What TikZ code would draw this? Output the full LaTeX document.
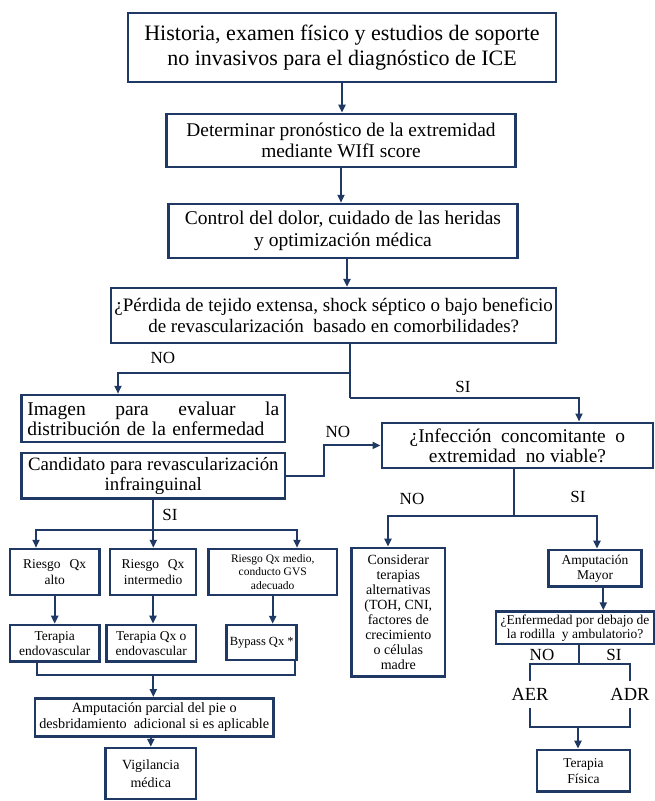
\documentclass[tikz,border=0pt]{standalone}
\usepackage{fontspec}
\setmainfont{Liberation Serif}
\usetikzlibrary{arrows.meta, calc}
\definecolor{azul}{RGB}{31,56,100}

\begin{document}
\begin{tikzpicture}[x=1pt, y=-1pt, >={Triangle[length=8pt,width=7pt]},
    caja/.style={draw=azul, line width=2.5pt, align=center, inner sep=0pt},
    linea/.style={draw=azul, line width=2pt},
    etq/.style={font=\fontsize{17}{17}\selectfont, inner sep=0pt}]
\useasboundingbox (0,0) rectangle (655,801);

\node[caja, minimum width=428, minimum height=69, font=\fontsize{22}{25}\selectfont] (hist) at (342,47.5) {Historia, examen físico y estudios de soporte\\no invasivos para el diagnóstico de ICE};
\node[caja, minimum width=349, minimum height=53, font=\fontsize{19.4}{21}\selectfont] (prono) at (341,140.4) {Determinar pronóstico de la extremidad\\mediante WIfI score};
\node[caja, minimum width=349, minimum height=54, font=\fontsize{19.5}{22}\selectfont] (dolor) at (343,231) {Control del dolor, cuidado de las heridas\\y optimización médica};
\node[caja, minimum width=445, minimum height=55, font=\fontsize{19}{21}\selectfont] (perd) at (333.7,315.6) {¿Pérdida de tejido extensa, shock séptico o bajo beneficio\\de revascularización\ \ basado en comorbilidades?};

\node[caja, minimum width=263.3, minimum height=47, text width=252, align=left, font=\fontsize{19.5}{20}\selectfont] (imag) at (153.3,418.5) {Imagen\hfill para\hfill evaluar\hfill la\\distribución de la enfermedad};
\node[caja, minimum width=263.3, minimum height=45.5, font=\fontsize{18.8}{19.5}\selectfont] (cand) at (153.3,475.8) {Candidato para revascularización\\infrainguinal};
\node[caja, minimum width=271.3, minimum height=45.3, font=\fontsize{19.4}{20}\selectfont] (infe) at (517.4,445.4) {¿Infección\ \ concomitante\ \ o\\extremidad\ \ no viable?};

\node[caja, minimum width=89.3, minimum height=46, font=\fontsize{13.5}{16.5}\selectfont] (alto) at (54.7,572) {Riesgo\hspace{9pt}Qx\\alto};
\node[caja, minimum width=86, minimum height=46, font=\fontsize{13.5}{16.5}\selectfont] (inter) at (153,572) {Riesgo\hspace{9pt}Qx\\intermedio};
\node[caja, minimum width=128.7, minimum height=46, font=\fontsize{11.5}{13.4}\selectfont] (medio) at (272.7,572) {Riesgo Qx\ medio,\\conducto GVS\\adecuado};
\node[caja, minimum width=89.3, minimum height=36.7, font=\fontsize{13.5}{15}\selectfont] (endo) at (54.7,643.3) {Terapia\\endovascular};
\node[caja, minimum width=89.3, minimum height=36.7, font=\fontsize{13.5}{15}\selectfont] (qxendo) at (151.3,643.3) {Terapia Qx o\\endovascular};
\node[caja, minimum width=70, minimum height=35, font=\fontsize{12.5}{15}\selectfont] (bypass) at (261.7,642.5) {Bypass Qx *};
\node[caja, minimum width=238.3, minimum height=38.4, font=\fontsize{14.2}{16}\selectfont] (parcial) at (154.2,717.5) {Amputación parcial del pie o\\desbridamiento\ \ adicional si es aplicable};
\node[caja, minimum width=90.5, minimum height=51, font=\fontsize{14}{18}\selectfont] (vigil) at (150.8,773.5) {Vigilancia\\médica};

\node[caja, minimum width=93.3, minimum height=128.7, font=\fontsize{14}{15}\selectfont] (consid) at (398.3,612.3) {Considerar\\terapias\\alternativas\\(TOH, CNI,\\factores de\\crecimiento\\o células\\madre};
\node[caja, minimum width=93.3, minimum height=36.7, font=\fontsize{13.5}{15}\selectfont] (amput) at (595,568.3) {Amputación\\Mayor};
\node[caja, minimum width=158, minimum height=32.5, font=\fontsize{13.5}{14}\selectfont] (enfer) at (575,627.8) {¿Enfermedad por debajo de\\la rodilla\ \ y ambulatorio?};
\node[caja, minimum width=93, minimum height=41.7, font=\fontsize{13.5}{16}\selectfont] (fisica) at (583.5,770.8) {Terapia\\Física};

\node[etq] (no1) at (163,358) {NO};
\node[etq] (si1) at (463,387) {SI};
\node[etq] (no2) at (338,431.7) {NO};
\node[etq] (si2) at (170,515) {SI};
\node[etq] (no3) at (412,499) {NO};
\node[etq] (si3) at (578,497) {SI};
\node[etq] (no4) at (542,655) {NO};
\node[etq] (si4) at (614,655) {SI};
\node[etq, font=\fontsize{18.5}{18.5}\selectfont, minimum height=27] (aer) at (530,694.5) {AER};
\node[etq, font=\fontsize{18.5}{18.5}\selectfont, minimum height=27] (adr) at (630,694.5) {ADR};

\coordinate (c1) at (350,373);
\coordinate (c2) at (350,397.7);
\coordinate (c3) at (153.3,530);
\coordinate (c4) at (153.3,675);
\coordinate (c5) at (514.4,516);
\coordinate (c6) at (579,664);
\coordinate (c7) at (578,727);

\draw[linea, ->] (hist.south) -- (hist.south |- prono.north);
\draw[linea, ->] (prono.south) -- (prono.south |- dolor.north);
\draw[linea, ->] ([xshift=4]dolor.south) -- ([xshift=4]dolor.south |- perd.north);
\draw[linea] ([xshift=16.3]perd.south) -- (c2);
\draw[linea, ->] (c1) -| ([xshift=-35.3]imag.north);
\draw[linea, ->] (c2) -| ([xshift=61.6]infe.north);
\draw[linea, ->] (cand.east) -- ++(37.7,0) |- (infe.west);

\draw[linea] (cand.south) -- (c3);
\draw[linea, ->] (c3) -| ([xshift=-18.7]alto.north);
\draw[linea, ->] (c3) -| ([xshift=24.3]medio.north);
\draw[linea, ->] (c3) -- (c3 |- inter.north);
\draw[linea, ->] (alto) -- (endo);
\draw[linea, ->] (inter.south) -- (inter.south |- qxendo.north);
\draw[linea, ->] (medio.south) -- (medio.south |- bypass.north);
\draw[linea] ([xshift=-18]endo.south) |- (c4) -| ([xshift=33.3]bypass.south);
\draw[linea, ->] (c4) -- (c4 |- parcial.north);
\draw[linea, ->] (vigil.north |- parcial.south) -- (vigil.north);

\draw[linea] ([xshift=-3]infe.south) -- (c5);
\draw[linea, ->] (c5) -| ([xshift=-10.3]consid.north);
\draw[linea, ->] (c5) -| ([xshift=2]amput.north);
\draw[linea, ->] ([xshift=8.3]amput.south) -- ([xshift=8.3]amput.south |- enfer.north);
\draw[linea] ([xshift=4]enfer.south) -- (c6);
\draw[linea] (c6) -| (aer.north);
\draw[linea] (c6) -| (adr.north);
\draw[linea] (aer.south) |- (c7);
\draw[linea] (adr.south) |- (c7);
\draw[linea, ->] (c7) -- (c7 |- fisica.north);
\end{tikzpicture}
\end{document}
